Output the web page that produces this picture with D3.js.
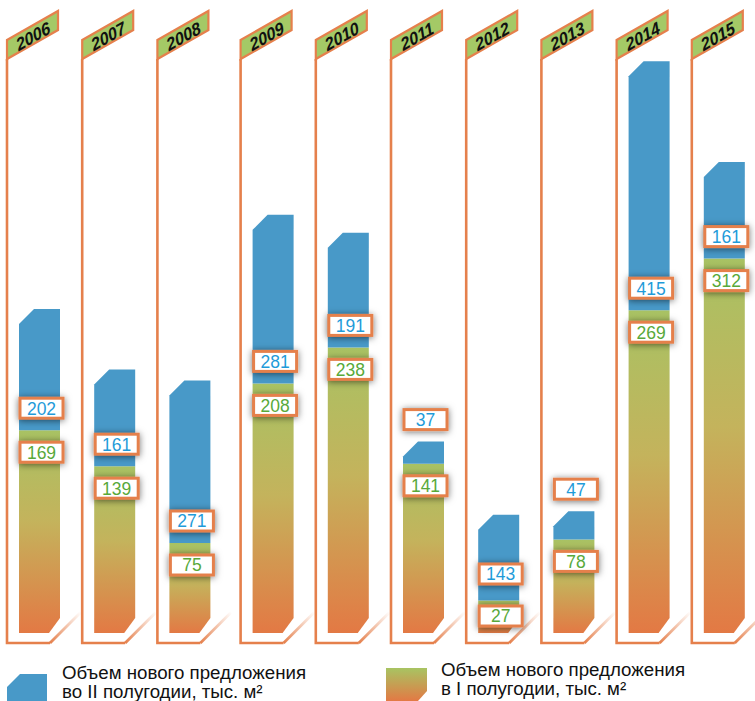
<!DOCTYPE html>
<html><head><meta charset="utf-8">
<script src="https://cdn.jsdelivr.net/npm/d3@7"></script>
<style>html,body{margin:0;padding:0;background:#fff;}svg{display:block;}</style>
</head><body>
<script>
const years = ["2006","2007","2008","2009","2010","2011","2012","2013","2014","2015"];
const firstHalf = [169,139,75,208,238,141,27,78,269,312];   // I полугодие (green)
const secondHalf = [202,161,271,281,191,37,143,47,415,161]; // II полугодие (blue)
const legendLabels = [
  ["Объем нового предложения","во II полугодии, тыс. м²"],
  ["Объем нового предложения","в I полугодии, тыс. м²"]
];

const W=755,H=701;
const ORANGE="#e5804c", BLUE="#4899c8", BLUE_TXT="#1f9bd9", GREEN_TXT="#58a93a", FLAG="#a4c966";
const svg=d3.select("body").append("svg").attr("width",W).attr("height",H);
const defs=svg.append("defs");

const g1=defs.append("linearGradient").attr("id","gGreen").attr("x1",0).attr("y1",0).attr("x2",0).attr("y2",1);
g1.append("stop").attr("offset",0).attr("stop-color","#a8c263");
g1.append("stop").attr("offset",0.45).attr("stop-color","#c4b35c");
g1.append("stop").attr("offset",1).attr("stop-color","#e37944");
const g2=defs.append("linearGradient").attr("id","gFade").attr("x1",0).attr("y1",1).attr("x2",1).attr("y2",0);
g2.append("stop").attr("offset",0).attr("stop-color",ORANGE).attr("stop-opacity",1);
g2.append("stop").attr("offset",1).attr("stop-color",ORANGE).attr("stop-opacity",0);
const f=defs.append("filter").attr("id","shadow").attr("x","-50%").attr("y","-80%").attr("width","200%").attr("height","260%");
f.append("feDropShadow").attr("dx",0).attr("dy",1).attr("stdDeviation",3.5).attr("flood-color","#000").attr("flood-opacity",0.55);

// scales
const xIdx=d3.scaleLinear().domain([0,9]).range([7,683.8]);
const xPos=i=>xIdx(i)+(i>=3?8:0);
const hGreen=d3.scaleLinear().domain([0,100]).range([0,120]);
const hBlue=d3.scaleLinear().domain([0,100]).range([0,60]);
const base=633, frameBottom=643;

const data=years.map((y,i)=>{
  const x0=xPos(i);
  const boundary=base-hGreen(firstHalf[i]);
  const top=boundary-hBlue(secondHalf[i]);
  return {y,i,x0,boundary,top,g:firstHalf[i],b:secondHalf[i]};
});

const col=svg.selectAll("g.col").data(data).join("g").attr("class","col");

// frame: pole + bottom + fading diagonal
col.append("path").attr("d",d=>`M${d.x0},59 L${d.x0},${frameBottom} L${d.x0+43},${frameBottom}`)
  .attr("fill","none").attr("stroke",ORANGE).attr("stroke-width",2.6);
col.append("path").attr("d",d=>`M${d.x0+43},${frameBottom} L${d.x0+74},${frameBottom-31}`)
  .attr("fill","none").attr("stroke","url(#gFade)").attr("stroke-width",2.8);

// flags
col.append("path").attr("d",d=>`M${d.x0},40 L${d.x0+51},11 L${d.x0+51},30 L${d.x0},59 Z`)
  .attr("fill",FLAG).attr("stroke",ORANGE).attr("stroke-width",2.2).attr("stroke-linejoin","miter");
col.append("text").attr("transform",d=>`translate(${d.x0+26},${36}) rotate(-29.6) skewX(-10)`)
  .attr("text-anchor","middle").attr("dy","0.36em")
  .style("font-family","'Liberation Sans',Arial,sans-serif").style("font-weight","bold").style("font-style","italic")
  .style("font-size","17px").attr("fill","#111").text(d=>d.y);

// bars
const bl=d=>d.x0+12, br=d=>d.x0+53;
col.append("path").attr("d",d=>{
  const c=Math.min(15,base-d.boundary);
  return `M${bl(d)},${d.boundary} L${br(d)},${d.boundary} L${br(d)},${base-c} L${br(d)-11*c/15},${base} L${bl(d)},${base} Z`;
}).attr("fill","url(#gGreen)");
col.append("path").attr("d",d=>{
  const c=Math.min(15,d.boundary-d.top);
  return `M${bl(d)},${d.boundary} L${bl(d)},${d.top+c} L${bl(d)+c},${d.top} L${br(d)},${d.top} L${br(d)},${d.boundary} Z`;
}).attr("fill",BLUE);

// labels
function label(sel,yf,valf,color){
  const lg=sel.append("g").attr("transform",d=>`translate(${(bl(d)+br(d))/2+2},${yf(d)})`);
  lg.append("rect").attr("x",-21.5).attr("y",-10).attr("width",43).attr("height",20)
    .attr("fill","#fff").attr("stroke",ORANGE).attr("stroke-width",3).attr("filter","url(#shadow)");
  lg.append("text").attr("text-anchor","middle").attr("dy","0.36em")
    .style("font-family","'Liberation Sans',Arial,sans-serif").style("font-size","17.5px")
    .attr("fill",color).text(valf);
}
const gy=d=>Math.min(d.boundary+22,base-17);
const by=d=>(d.boundary-d.top>=40)?Math.min(d.boundary-22,gy(d)-42):d.top-22;
label(col,by,d=>d.b,BLUE_TXT);
label(col,gy,d=>d.g,GREEN_TXT);

// legend
const leg=svg.append("g");
leg.append("path").attr("d","M7,687 L20,674 L47,674 L47,706 L7,706 Z").attr("fill",BLUE);
const g3=defs.append("linearGradient").attr("id","gLeg").attr("x1",0).attr("y1",0).attr("x2",0).attr("y2",1);
g3.append("stop").attr("offset",0).attr("stop-color","#a8c462");
g3.append("stop").attr("offset",1).attr("stop-color","#e37944");
leg.append("path").attr("d","M386,668 L427,668 L427,691 L418,701 L386,701 Z").attr("fill","url(#gLeg)");
const lt=[{x:62,y:679,lines:legendLabels[0]},{x:441,y:676,lines:legendLabels[1]}];
lt.forEach(t=>{
  const tx=leg.append("text").attr("x",t.x).attr("y",t.y)
    .style("font-family","'Liberation Sans',Arial,sans-serif").style("font-size","18.7px").attr("fill","#111");
  t.lines.forEach((l,k)=>tx.append("tspan").attr("x",t.x).attr("dy",k?19:0).text(l));
});
</script>
</body></html>
